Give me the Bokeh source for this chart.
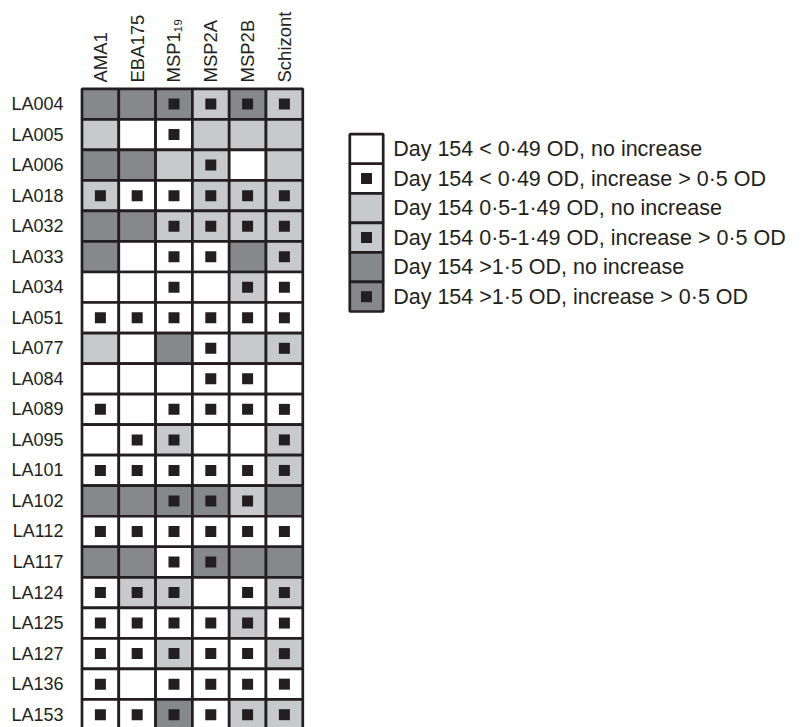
from bokeh.plotting import figure
from bokeh.models import ColumnDataSource, FixedTicker, Range1d
from bokeh.core.properties import value
from bokeh.embed import file_html
from bokeh.resources import INLINE

# ---------------- data ----------------
ROWS = ["LA004", "LA005", "LA006", "LA018", "LA032", "LA033", "LA034", "LA051",
        "LA077", "LA084", "LA089", "LA095", "LA101", "LA102", "LA112", "LA117",
        "LA124", "LA125", "LA127", "LA136", "LA153"]
COLUMNS = ["AMA1", "EBA175", "MSP1\u2081\u2089", "MSP2A", "MSP2B", "Schizont"]

# Day-154 OD level: 0 = <0.49, 1 = 0.5-1.49, 2 = >1.5
AMA1_LEVEL = [2, 1, 2, 1, 2, 2, 0, 0, 1, 0, 0, 0, 0, 2, 0, 2, 0, 0, 0, 0, 0]
EBA175_LEVEL = [2, 0, 2, 0, 2, 0, 0, 0, 0, 0, 0, 0, 0, 2, 0, 2, 1, 0, 0, 0, 0]
MSP119_LEVEL = [2, 0, 1, 0, 1, 0, 0, 0, 2, 0, 0, 1, 0, 2, 0, 0, 1, 0, 1, 0, 2]
MSP2A_LEVEL = [1, 1, 1, 1, 1, 0, 0, 0, 0, 0, 0, 0, 0, 2, 0, 2, 0, 0, 0, 0, 0]
MSP2B_LEVEL = [2, 1, 0, 1, 1, 2, 1, 0, 1, 0, 0, 0, 0, 1, 0, 2, 0, 1, 0, 0, 1]
SCHIZONT_LEVEL = [1, 1, 1, 1, 1, 1, 0, 0, 1, 0, 0, 1, 1, 2, 0, 2, 1, 0, 1, 0, 1]

# increase > 0.5 OD (1 = yes)
AMA1_INC = [0, 0, 0, 1, 0, 0, 0, 1, 0, 0, 1, 0, 1, 0, 1, 0, 1, 1, 1, 1, 1]
EBA175_INC = [0, 0, 0, 1, 0, 0, 0, 1, 0, 0, 0, 1, 1, 0, 1, 0, 1, 1, 1, 0, 1]
MSP119_INC = [1, 1, 0, 1, 1, 1, 1, 1, 0, 0, 1, 1, 1, 1, 1, 1, 1, 1, 1, 1, 1]
MSP2A_INC = [1, 0, 1, 1, 1, 1, 0, 1, 1, 1, 1, 0, 1, 1, 1, 1, 0, 1, 1, 1, 1]
MSP2B_INC = [1, 0, 0, 1, 1, 0, 1, 1, 0, 1, 1, 0, 1, 1, 1, 0, 1, 1, 1, 1, 1]
SCHIZONT_INC = [1, 0, 0, 1, 1, 1, 1, 1, 1, 0, 1, 1, 1, 0, 1, 0, 1, 1, 1, 1, 1]

LEGEND_LABELS = [
    "Day 154 < 0\u00b749 OD, no increase",
    "Day 154 < 0\u00b749 OD, increase > 0\u00b75 OD",
    "Day 154 0\u00b75-1\u00b749 OD, no increase",
    "Day 154 0\u00b75-1\u00b749 OD, increase > 0\u00b75 OD",
    "Day 154 >1\u00b75 OD, no increase",
    "Day 154 >1\u00b75 OD, increase > 0\u00b75 OD",
]
LEGEND_LEVEL = [0, 0, 1, 1, 2, 2]
LEGEND_INC = [0, 1, 0, 1, 0, 1]

# ---------------- styling ----------------
LEVEL_COLORS = {0: "#ffffff", 1: "#c8c9cb", 2: "#87888b"}
INK = "#231f20"
FONT = "Liberation Sans"

levels = [AMA1_LEVEL, EBA175_LEVEL, MSP119_LEVEL, MSP2A_LEVEL, MSP2B_LEVEL, SCHIZONT_LEVEL]
incs = [AMA1_INC, EBA175_INC, MSP119_INC, MSP2A_INC, MSP2B_INC, SCHIZONT_INC]

cx, cy, cc = [], [], []
sx, sy = [], []
for ci, (lv, inc) in enumerate(zip(levels, incs)):
    for ri in range(len(ROWS)):
        cx.append(ci)
        cy.append(ri)
        cc.append(LEVEL_COLORS[lv[ri]])
        if inc[ri]:
            sx.append(ci)
            sy.append(ri)

cells = ColumnDataSource(dict(x=cx, y=cy, color=cc))
marks = ColumnDataSource(dict(x=sx, y=sy))

# ---------------- figure ----------------
p = figure(width=801, height=727, output_backend="svg", toolbar_location=None,
           x_axis_location="above",
           x_range=Range1d(-0.595, 19.052), y_range=Range1d(20.42, -0.608),
           min_border_left=78, min_border_right=0, min_border_top=85,
           min_border_bottom=0)
p.outline_line_color = None
p.grid.visible = False
p.background_fill_color = "white"
p.border_fill_color = "white"

# legend coordinate system (one swatch column, six rows)
p.extra_x_ranges = {"lx": Range1d(-8.623, 13.024)}
p.extra_y_ranges = {"ly": Range1d(19.578, -2.148)}

p.rect(x="x", y="y", width=1, height=1, source=cells, fill_color="color",
       line_color=INK, line_width=2.7)
p.scatter(x="x", y="y", source=marks, marker="square", size=11,
          fill_color=INK, line_color=None)

p.yaxis.ticker = FixedTicker(ticks=list(range(len(ROWS))))
p.yaxis.major_label_overrides = {i: r for i, r in enumerate(ROWS)}
p.xaxis.ticker = FixedTicker(ticks=list(range(len(COLUMNS))))
p.xaxis.major_label_overrides = {i: c for i, c in enumerate(COLUMNS)}
p.xaxis.major_label_orientation = "vertical"

for ax in (p.xaxis[0], p.yaxis[0]):
    ax.axis_line_color = None
    ax.major_tick_line_color = None
    ax.minor_tick_line_color = None
    ax.major_tick_out = 0
    ax.major_tick_in = 0
    ax.major_label_text_color = INK
    ax.major_label_text_font = FONT
p.yaxis.major_label_text_font_size = "18px"
p.yaxis.major_label_standoff = 15
p.xaxis.major_label_text_font_size = "18.5px"
p.xaxis.major_label_standoff = 3

# ---------------- legend ----------------
n_leg = len(LEGEND_LABELS)
leg_cells = ColumnDataSource(dict(
    x=[0] * n_leg, y=list(range(n_leg)),
    color=[LEVEL_COLORS[v] for v in LEGEND_LEVEL]))
leg_marks = ColumnDataSource(dict(
    x=[0 for f in LEGEND_INC if f],
    y=[i for i, f in enumerate(LEGEND_INC) if f]))
leg_text = ColumnDataSource(dict(
    x=[0.5] * n_leg, y=list(range(n_leg)), text=LEGEND_LABELS))

p.rect(x="x", y="y", width=1, height=1, source=leg_cells, fill_color="color",
       line_color=INK, line_width=2.7, x_range_name="lx", y_range_name="ly")
p.scatter(x="x", y="y", source=leg_marks, marker="square", size=11,
          fill_color=INK, line_color=None, x_range_name="lx", y_range_name="ly")
p.text(x="x", y="y", text="text", source=leg_text, x_offset=10,
       text_align="left", text_baseline="middle", text_color=INK,
       text_font=value(FONT), text_font_size="21.5px",
       x_range_name="lx", y_range_name="ly")

open("out.html", "w").write(file_html(p, INLINE))
